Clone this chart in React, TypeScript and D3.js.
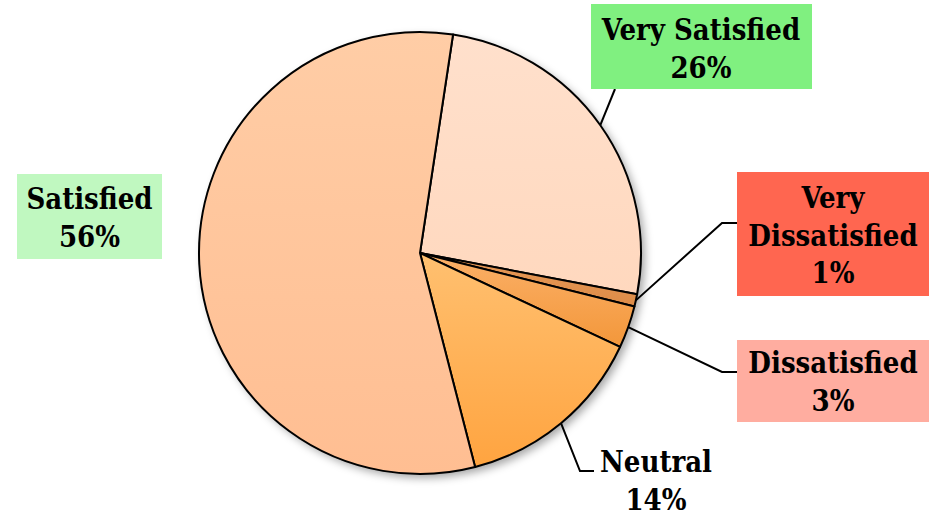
import React from "react";
import * as d3 from "d3";

const categories = ["Very Satisfied", "Very Dissatisfied", "Dissatisfied", "Neutral", "Satisfied"];
const values = [25.6, 0.9, 3.1, 14.0, 56.4];
const percentLabels = ["26%", "1%", "3%", "14%", "56%"];

const W = 937;
const H = 515;
const CX = 420;
const CY = 253;
const R = 221;
const START = (8.6 * Math.PI) / 180;

const sliceColors = [
  ["#FFE0CC", "#FFD8BE"],
  ["#E89A58", "#DD8C48"],
  ["#FBB068", "#F3973A"],
  ["#FFC070", "#FFA440"],
  ["#FFCDA6", "#FFBE92"],
];

type LabelCfg = {
  box?: [number, number, number, number];
  fill?: string;
  lines: string[];
  cx: number;
  baseline: number;
  leader: [number, number][];
};

const labelLayout: LabelCfg[] = [
  { box: [591, 4, 221, 85], fill: "#80F080", lines: ["Very Satisfied"], cx: 701, baseline: 40, leader: [[615, 89]] },
  { box: [737, 172, 192, 124], fill: "#FF6650", lines: ["Very", "Dissatisfied"], cx: 833, baseline: 208, leader: [[722, 223], [737, 223]] },
  { box: [737, 340, 192, 82], fill: "#FFADA0", lines: ["Dissatisfied"], cx: 833, baseline: 373, leader: [[722, 372], [737, 372]] },
  { lines: ["Neutral"], cx: 656, baseline: 472, leader: [[580, 471], [594, 471]] },
  { box: [17, 174, 145, 85], fill: "#C0F8C0", lines: ["Satisfied"], cx: 89.5, baseline: 209, leader: [] },
];

export default function App() {
  const pie = d3
    .pie<number>()
    .sort(null)
    .value((d) => d)
    .startAngle(START)
    .endAngle(START + 2 * Math.PI);
  const arcs = pie(values);
  const arcGen = d3.arc<d3.PieArcDatum<number>>().innerRadius(0).outerRadius(R);
  const lineGen = d3.line();

  const fontStyle: React.CSSProperties = {
    fontFamily: "'DejaVu Serif', serif",
    fontWeight: "bold",
    fontStretch: "condensed",
    fontSize: 29,
  };

  return (
    <svg
      width={W}
      height={H}
      viewBox={`0 0 ${W} ${H}`}
      style={{ position: "absolute", left: 0, top: 0, background: "#fff" }}
    >
      <defs>
        <filter id="shadow" x="-20%" y="-20%" width="140%" height="140%">
          <feDropShadow dx="4" dy="4" stdDeviation="4" floodColor="#000" floodOpacity="0.35" />
        </filter>
        {sliceColors.map((c, i) => (
          <linearGradient key={i} id={`g${i}`} x1="0" y1="0" x2="0" y2="1">
            <stop offset="0" stopColor={c[0]} />
            <stop offset="1" stopColor={c[1]} />
          </linearGradient>
        ))}
      </defs>
      <circle cx={CX} cy={CY} r={R} fill="#fff" filter="url(#shadow)" />
      <g transform={`translate(${CX},${CY})`}>
        {arcs.map((a, i) => (
          <path key={i} d={arcGen(a) || ""} fill={`url(#g${i})`} stroke="#000" strokeWidth={2} strokeLinejoin="round" />
        ))}
      </g>
      {arcs.map((a, i) => {
        const cfg = labelLayout[i];
        const mid = (a.startAngle + a.endAngle) / 2;
        const sx = CX + Math.sin(mid) * R;
        const sy = CY - Math.cos(mid) * R;
        const pts: [number, number][] = [[sx, sy], ...cfg.leader];
        const lines = [...cfg.lines, percentLabels[i]];
        return (
          <g key={categories[i]}>
            {cfg.leader.length > 0 && (
              <path d={lineGen(pts) || ""} fill="none" stroke="#000" strokeWidth={2} />
            )}
            {cfg.box && (
              <rect x={cfg.box[0]} y={cfg.box[1]} width={cfg.box[2]} height={cfg.box[3]} fill={cfg.fill} />
            )}
            <text textAnchor="middle" style={fontStyle} fill="#000">
              {lines.map((t, j) => (
                <tspan key={j} x={cfg.cx} y={cfg.baseline + j * 37.5}>
                  {t}
                </tspan>
              ))}
            </text>
          </g>
        );
      })}
    </svg>
  );
}
